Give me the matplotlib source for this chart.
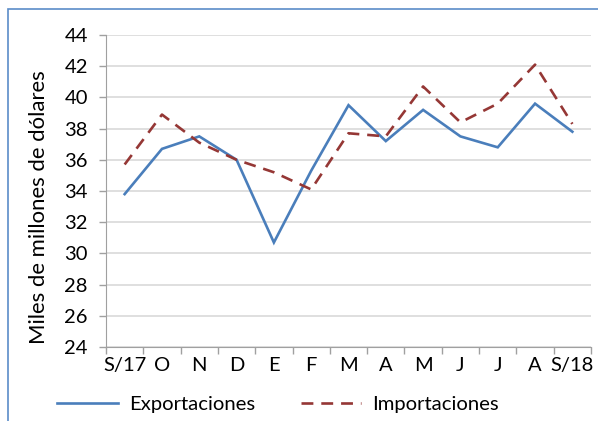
import numpy as np
import matplotlib.pyplot as plt
from matplotlib.patches import Rectangle

months = ["S/17", "O", "N", "D", "E", "F", "M", "A", "M", "J", "J", "A", "S/18"]
exportaciones = [33.8, 36.7, 37.5, 36.0, 30.7, 35.3, 39.5, 37.2, 39.2, 37.5, 36.8, 39.6, 37.8]
importaciones = [35.7, 38.9, 37.1, 36.0, 35.2, 34.1, 37.7, 37.5, 40.7, 38.4, 39.6, 42.1, 38.3]
y_ticks = list(range(24, 45, 2))

plt.rcParams['font.family'] = ['Lato', 'DejaVu Sans']

fig = plt.figure(figsize=(5.98, 4.21), dpi=100)
ax = fig.add_axes([106 / 598, 1 - 347 / 421, 485 / 598, 312 / 421])

x = np.arange(len(months))
ax.plot(x, exportaciones, color='#4A7EBB', lw=1.9, label='Exportaciones',
        solid_joinstyle='miter')
ax.plot(x, importaciones, color='#953735', lw=1.9, ls=(0, (4.5, 3)), label='Importaciones')

ax.set_xlim(-0.5, len(months) - 0.5)
ax.set_ylim(24, 44)
ax.set_yticks(y_ticks)
ax.set_xticks(x)
ax.set_xticklabels(months)
ax.set_xticks(np.arange(-0.5, len(months)), minor=True)
ax.tick_params(axis='x', which='major', length=0, pad=7, labelsize=14.5, colors='black')
ax.tick_params(axis='x', which='minor', length=5, color='#A0A0A0', width=1)
ax.tick_params(axis='y', length=5, color='#A0A0A0', width=1, labelsize=14.5, pad=8)

ax.grid(axis='y', color='#D9D9D9', lw=1.2)
ax.set_axisbelow(True)
for side in ['top', 'right']:
    ax.spines[side].set_visible(False)
ax.spines['left'].set_color('#A0A0A0')
ax.spines['bottom'].set_color('#A0A0A0')

ax.set_ylabel("Miles de millones de dólares", fontsize=15.9, va='center')
ax.yaxis.set_label_coords(-0.138, 0.447)

fig.legend(loc='center', bbox_to_anchor=(0.465, 1 - 404 / 421), ncol=2, frameon=False,
           fontsize=14.6, handlelength=3.0, columnspacing=2.25, handletextpad=0.55)

fig.patches.append(Rectangle((8 / 598, -0.1), 1.2, 1 - 9 / 421 + 0.1,
                             transform=fig.transFigure, fill=False,
                             edgecolor='#5B8CC8', lw=1.2))

fig.savefig('out.png', dpi=100)
